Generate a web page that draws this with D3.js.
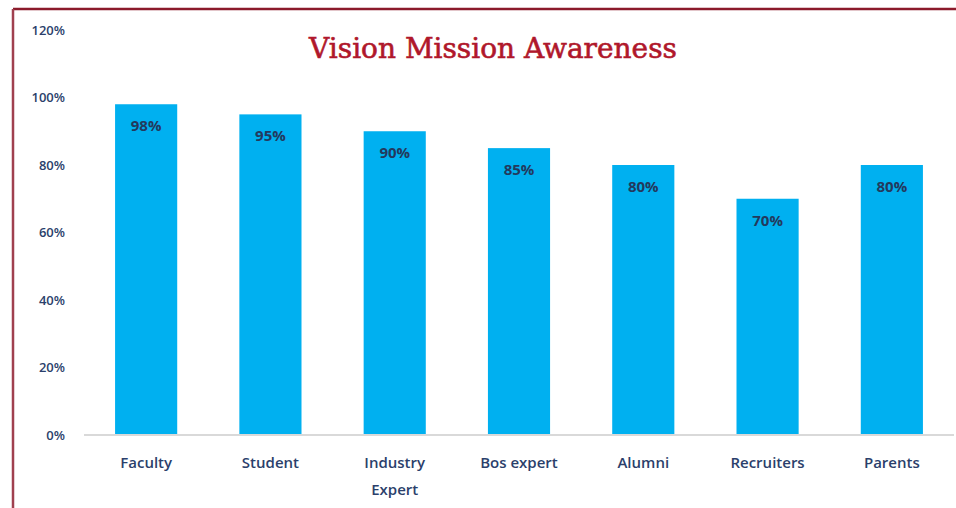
<!DOCTYPE html>
<html>
<head>
<meta charset="utf-8">
<script src="https://cdn.jsdelivr.net/npm/d3@7"></script>
<style>
  body { margin: 0; background: #fff; }
  svg { display: block; }
</style>
</head>
<body>
<div id="chart"></div>
<script>
// data
var groups = ["Faculty", "Student", "Industry Expert", "Bos expert", "Alumni", "Recruiters", "Parents"];
var values = [98, 95, 90, 85, 80, 70, 80];
var yTicks = [0, 20, 40, 60, 80, 100, 120];

var W = 956, H = 508;
var margin = { top: 30, right: 2, bottom: 73, left: 84 };
var width = W - margin.left - margin.right,
    height = H - margin.top - margin.bottom;

var svg = d3.select("#chart").append("svg")
    .attr("width", W)
    .attr("height", H);

// frame lines (top and left)
svg.append("line")
    .attr("x1", 13).attr("x2", W).attr("y1", 9).attr("y2", 9)
    .style("stroke", "#8b1a2b").style("stroke-width", 2.5);
svg.append("line")
    .attr("x1", 13).attr("x2", 13).attr("y1", 9).attr("y2", H)
    .style("stroke", "#a0404f").style("stroke-width", 2.5);

var g = svg.append("g")
    .attr("transform", "translate(" + margin.left + "," + margin.top + ")");

var x = d3.scaleBand().range([0, width]).domain(groups)
    .paddingInner(0.5).paddingOuter(0.25);
var y = d3.scaleLinear().range([height, 0]).domain([0, 120]);

var sans = "'Open Sans', Lato, sans-serif";

// y axis labels
var yAxis = g.append("g")
    .attr("transform", "translate(-16,0)")
    .call(d3.axisLeft(y).tickValues(yTicks).tickSize(0).tickFormat(function (d) { return d + "%"; }));
yAxis.select(".domain").remove();
yAxis.selectAll("text")
    .style("font-family", sans)
    .style("font-size", "13px")
    .style("font-weight", "600")
    .style("fill", "#2b3f6b");

// bars
g.selectAll(".bar")
    .data(values)
    .enter()
    .append("rect")
    .attr("class", "bar")
    .attr("x", function (d, i) { return x(groups[i]); })
    .attr("y", function (d) { return y(d); })
    .attr("width", x.bandwidth())
    .attr("height", function (d) { return height - y(d); })
    .style("fill", "#00b0f0");

// value labels
g.selectAll(".val")
    .data(values)
    .enter()
    .append("text")
    .attr("class", "val")
    .attr("x", function (d, i) { return x(groups[i]) + x.bandwidth() / 2; })
    .attr("y", function (d) { return y(d) + 27; })
    .attr("text-anchor", "middle")
    .style("font-family", sans)
    .style("font-size", "15px")
    .style("font-weight", "bold")
    .style("fill", "#23395d")
    .text(function (d) { return d + "%"; });

// baseline
g.append("line")
    .attr("x1", 0).attr("x2", width)
    .attr("y1", height).attr("y2", height)
    .style("stroke", "#d9d9d9").style("stroke-width", 2);

// x labels (wrap on space for "Industry Expert")
var xl = g.selectAll(".xl")
    .data(groups)
    .enter()
    .append("text")
    .attr("class", "xl")
    .attr("x", function (d) { return x(d) + x.bandwidth() / 2; })
    .attr("y", height + 33)
    .attr("text-anchor", "middle")
    .style("font-family", sans)
    .style("font-size", "15px")
    .style("font-weight", "600")
    .style("fill", "#2b3f6b");
xl.each(function (d) {
    var lines = d === "Industry Expert" ? d.split(" ") : [d];
    var t = d3.select(this);
    lines.forEach(function (l, i) {
        t.append("tspan")
            .attr("x", t.attr("x"))
            .attr("dy", i === 0 ? 0 : 27)
            .text(l);
    });
});

// title
svg.append("text")
    .attr("x", 493)
    .attr("y", 58)
    .attr("text-anchor", "middle")
    .style("font-family", "'DejaVu Serif', 'Liberation Serif', serif")
    .style("font-size", "28px")
    .style("fill", "#b0172b")
    .style("stroke", "#b0172b")
    .style("stroke-width", 0.6)
    .text("Vision Mission Awareness");
</script>
</body>
</html>
